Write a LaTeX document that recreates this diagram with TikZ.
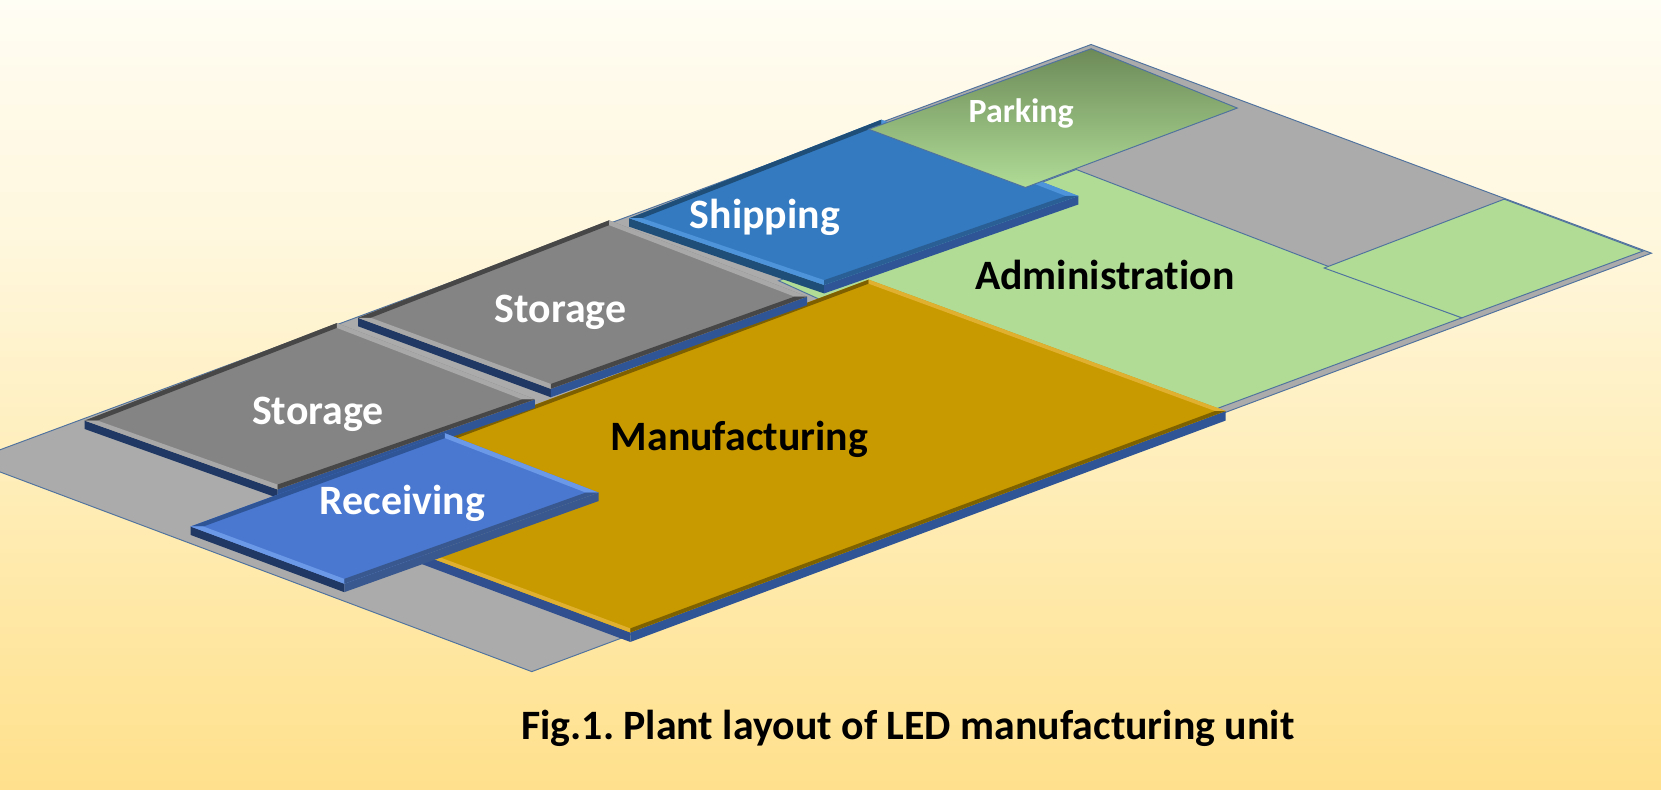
\documentclass[tikz,border=0pt]{standalone}
\usepackage{fontspec}
\setmainfont{Carlito}[Ligatures=NoCommon]
\frenchspacing
\usetikzlibrary{calc}
\definecolor{floorgray}{HTML}{ABABAB}
\definecolor{edgeblue}{HTML}{4F729E}
\definecolor{admingreen}{HTML}{B0DC96}
\definecolor{parktop}{HTML}{6C8A58}
\pgfdeclareverticalshading{bgshade}{100bp}{
  rgb(0bp)=(1.0,0.88,0.55);
  rgb(25bp)=(1.0,0.88,0.55);
  rgb(42bp)=(1.0,0.925,0.70);
  rgb(60bp)=(1.0,0.97,0.87);
  rgb(70bp)=(1.0,0.98,0.92);
  rgb(75bp)=(1.0,0.995,0.96);
  rgb(100bp)=(1.0,0.995,0.96)}
\tikzset{
  floorpart/.style={draw=edgeblue,line width=0.9pt,line join=miter},
  whitelabel/.style={text=white,font=\bfseries\fontsize{#1}{#1}\selectfont,inner sep=0pt},
  blacklabel/.style={text=black,font=\bfseries\fontsize{#1}{#1}\selectfont,inner sep=0pt}
}
% L, T, R, B, height, bevel
\newcommand\plate[6]{%
  \coordinate (pL) at (#1); \coordinate (pT) at (#2);
  \coordinate (pR) at (#3); \coordinate (pB) at (#4);
  \coordinate (iL) at ($(pL)+(#6,0)$); \coordinate (iT) at ($(pT)+(0,0.38*#6)$);
  \coordinate (iR) at ($(pR)+(-#6,0)$); \coordinate (iB) at ($(pB)+(0,-0.38*#6)$);
  \coordinate (dL) at ($(pL)+(0,#5)$); \coordinate (dR) at ($(pR)+(0,#5)$);
  \coordinate (dB) at ($(pB)+(0,#5)$);
  \fill[pside-l] (pL) -- (pB) -- (dB) -- (dL) -- cycle;
  \fill[pside-r] (pB) -- (pR) -- (dR) -- (dB) -- cycle;
  \fill[pface] (pL) -- (pT) -- (pR) -- (pB) -- cycle;
  \fill[ptl] (pL) -- (pT) -- (iT) -- (iL) -- cycle;
  \fill[ptr] (pT) -- (pR) -- (iR) -- (iT) -- cycle;
  \fill[pll] (pL) -- (iL) -- (iB) -- (pB) -- cycle;
  \fill[plr] (pB) -- (iB) -- (iR) -- (pR) -- cycle;
}
\newcommand\platecolors[7]{%
  \definecolor{pface}{HTML}{#1}\definecolor{ptl}{HTML}{#2}\definecolor{ptr}{HTML}{#3}%
  \definecolor{pll}{HTML}{#4}\definecolor{plr}{HTML}{#5}\definecolor{pside-l}{HTML}{#6}\definecolor{pside-r}{HTML}{#7}}
\begin{document}
\begin{tikzpicture}[x=1pt,y=-1pt]
\useasboundingbox (0,0) rectangle (1568,745);
\clip (0,0) rectangle (1568,745);
\shade[shading=bgshade] (0,0) rectangle (1568,745);
% floor
\draw[floorpart,fill=floorgray] (1030,42) -- (1559,239) -- (502,634) -- (-28,435) -- cycle;
% administration
\draw[floorpart,fill=admingreen] (735,265) -- (1016,160) -- (1380,300) -- (1148,386) -- (790,290) -- cycle;
% right green area
\draw[floorpart,fill=admingreen] (1420,188) -- (1551,237) -- (1380,300) -- (1250,253) -- cycle;
% manufacturing
\platecolors{C89A00}{7F6000}{E0B030}{E0B030}{7F6200}{2F4F8F}{2F5597}
\plate{263,473}{820,264}{1157,388}{595,597}{9}{10}
% storage
\platecolors{848484}{474747}{A8A8A8}{A8A8A8}{474747}{1F3864}{2F5597}
\plate{80,397}{318,305}{505,377}{262,462}{8}{12}
\plate{338,300}{575,208}{762,280}{520,367}{8}{12}
% shipping
\platecolors{337AC0}{1F4E79}{4D94DA}{4D94DA}{2A5F95}{1F4E79}{2F5597}
\plate{594,206}{832,113}{1018,185}{778,269}{8}{12}
% receiving
\platecolors{4A78D0}{2F5597}{6C98E8}{6C98E8}{38588F}{1F3864}{38588F}
\plate{180,497}{420,409}{565,465}{325,551}{8}{12}
% parking
\draw[floorpart,top color=parktop,bottom color=admingreen] (820,122) -- (1030,46) -- (1168,102) -- (968,177) -- cycle;
% labels
\node[whitelabel=32] (parking) at (964,107) {Parking};
\node[whitelabel=39.5] (shipping) at (722,205) {Shipping};
\node[whitelabel=39.5] (storageb) at (529,295) {Storage};
\node[whitelabel=39.5] (storagea) at (300,391) {Storage};
\node[whitelabel=39.5] (receiving) at (380,475) {Receiving};
\node[blacklabel=39.5] (manufacturing) at (698,415) {Manufacturing};
\node[blacklabel=39.5] (administration) at (1043,260) {Administration};
\node[blacklabel=39.5] (caption) at (857,688) {Fig.1. Plant layout of LED manufacturing unit};
\end{tikzpicture}
\end{document}
